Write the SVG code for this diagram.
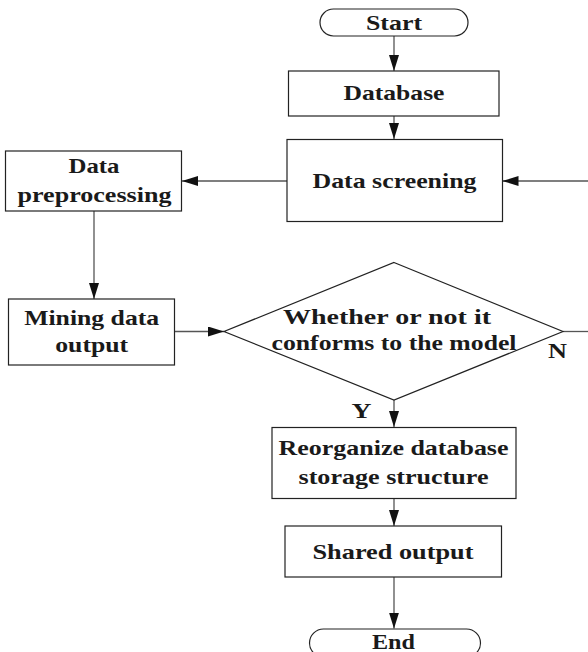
<svg xmlns="http://www.w3.org/2000/svg" width="588" height="652" viewBox="0 0 588 652">
<style>
.box{fill:#fff;stroke:#222;stroke-width:1.2}
.t{font-family:"Liberation Serif","Times New Roman",serif;font-weight:bold;font-size:21px;fill:#1a1a1a;text-anchor:middle}
.c{fill:none;stroke:#555;stroke-width:1.3}
</style>
<defs>
<marker id="ah" viewBox="0 0 16 10" refX="16" refY="5" markerWidth="16" markerHeight="10" markerUnits="userSpaceOnUse" orient="auto">
<path d="M0,0 L16,5 L0,10 Z" fill="#111"/>
</marker>
</defs>
<rect width="588" height="652" fill="#fff"/>
<g id="connectors">
<line class="c" x1="394" y1="36" x2="394" y2="71" marker-end="url(#ah)"/>
<line class="c" x1="394" y1="116" x2="394" y2="139" marker-end="url(#ah)"/>
<line class="c" x1="588" y1="181" x2="502.5" y2="181" marker-end="url(#ah)"/>
<line class="c" x1="287" y1="181" x2="182" y2="181" marker-end="url(#ah)"/>
<line class="c" x1="94" y1="211" x2="94" y2="299" marker-end="url(#ah)"/>
<line class="c" x1="174" y1="331.5" x2="224" y2="331.5" marker-end="url(#ah)"/>
<line class="c" x1="563" y1="331.5" x2="588" y2="331.5"/>
<line class="c" x1="394" y1="400" x2="394" y2="427" marker-end="url(#ah)"/>
<line class="c" x1="394" y1="498" x2="394" y2="526" marker-end="url(#ah)"/>
<line class="c" x1="394" y1="577" x2="394" y2="628.5" marker-end="url(#ah)"/>
</g>
<g id="start">
<rect class="box" x="320" y="9" width="148" height="27" rx="13.5"/>
<text class="t" x="394" y="30" textLength="56" lengthAdjust="spacingAndGlyphs">Start</text>
</g>
<g id="database">
<rect class="box" x="288.5" y="71" width="210.5" height="45"/>
<text class="t" x="394" y="100" textLength="101" lengthAdjust="spacingAndGlyphs">Database</text>
</g>
<g id="screening">
<rect class="box" x="287" y="139.5" width="215.5" height="82"/>
<text class="t" x="394.5" y="188" textLength="164" lengthAdjust="spacingAndGlyphs">Data screening</text>
</g>
<g id="preprocessing">
<rect class="box" x="5.5" y="151" width="176" height="60"/>
<text class="t" x="94" y="173" textLength="51" lengthAdjust="spacingAndGlyphs">Data</text>
<text class="t" x="94.5" y="201.5" textLength="154" lengthAdjust="spacingAndGlyphs">preprocessing</text>
</g>
<g id="mining">
<rect class="box" x="8.5" y="299" width="166" height="66"/>
<text class="t" x="91.7" y="325" textLength="135" lengthAdjust="spacingAndGlyphs">Mining data</text>
<text class="t" x="91.7" y="352" textLength="73" lengthAdjust="spacingAndGlyphs">output</text>
</g>
<g id="decision">
<polygon class="box" points="394,262.5 563,331.5 394,400 224,331.5"/>
<text class="t" x="387" y="324" textLength="208" lengthAdjust="spacingAndGlyphs">Whether or not it</text>
<text class="t" x="394" y="350" textLength="245" lengthAdjust="spacingAndGlyphs">conforms to the model</text>
<text class="t" x="557.5" y="358" textLength="19" lengthAdjust="spacingAndGlyphs">N</text>
<text class="t" x="361.5" y="417.5" textLength="20" lengthAdjust="spacingAndGlyphs">Y</text>
</g>
<g id="reorganize">
<rect class="box" x="272" y="427.5" width="244" height="71"/>
<text class="t" x="393.5" y="455" textLength="230" lengthAdjust="spacingAndGlyphs">Reorganize database</text>
<text class="t" x="393.5" y="483.5" textLength="190" lengthAdjust="spacingAndGlyphs">storage structure</text>
</g>
<g id="shared">
<rect class="box" x="285" y="526" width="216.5" height="51"/>
<text class="t" x="393" y="558.5" textLength="161" lengthAdjust="spacingAndGlyphs">Shared output</text>
</g>
<g id="end">
<rect class="box" x="309.5" y="629" width="171" height="28" rx="14"/>
<text class="t" x="393.5" y="648.5" textLength="43" lengthAdjust="spacingAndGlyphs">End</text>
</g>
</svg>
